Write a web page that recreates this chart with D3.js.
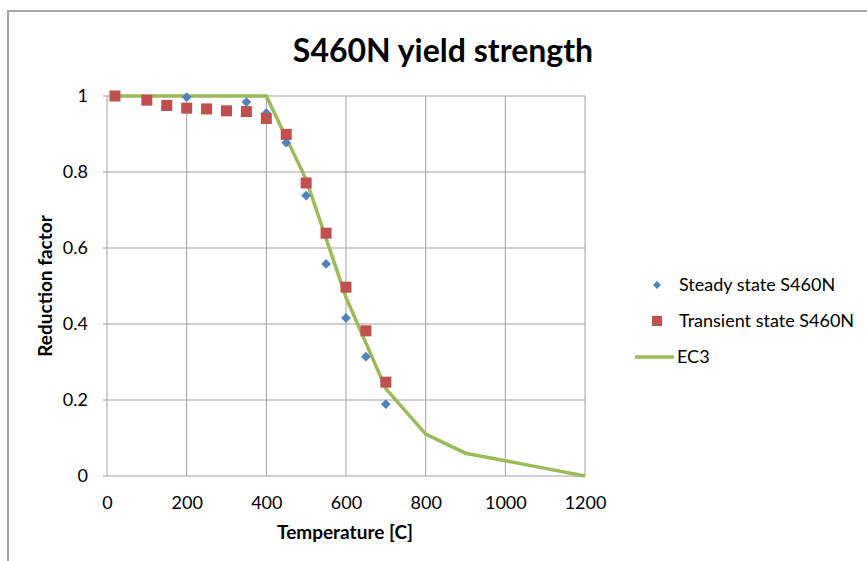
<!DOCTYPE html>
<html lang="en">
<head>
<meta charset="utf-8">
<title>S460N yield strength</title>
<script src="https://cdn.jsdelivr.net/npm/d3@7"></script>
<style>
  body { margin: 0; background: #fff; }
  text { font-family: Lato, "Open Sans", sans-serif; fill: #000; }
</style>
</head>
<body>
<script>
// data
var steadyTemp = [20, 200, 350, 400, 450, 500, 550, 600, 650, 700];
var steadyVal  = [1.0, 0.997, 0.984, 0.955, 0.877, 0.738, 0.558, 0.416, 0.314, 0.189];

var transTemp = [20, 100, 150, 200, 250, 300, 350, 400, 450, 500, 550, 600, 650, 700];
var transVal  = [1.0, 0.989, 0.975, 0.968, 0.966, 0.961, 0.959, 0.941, 0.899, 0.771, 0.639, 0.497, 0.382, 0.247];

var ec3Temp = [20, 400, 500, 600, 700, 800, 900, 1000, 1100, 1200];
var ec3Val  = [1.0, 1.0, 0.78, 0.47, 0.23, 0.11, 0.06, 0.04, 0.02, 0];

var xTicks = [0, 200, 400, 600, 800, 1000, 1200];
var yTicks = [0, 0.2, 0.4, 0.6, 0.8, 1];
var seriesNames = ["Steady state S460N", "Transient state S460N", "EC3"];

var w = 867, h = 561;
var pLeft = 107, pRight = 585, pTop = 96, pBottom = 476;

var svg = d3.select("body").append("svg")
  .attr("width", w)
  .attr("height", h);

// outer chart border (only top and left visible)
svg.append("rect")
  .attr("x", 8).attr("y", 11)
  .attr("width", 900).attr("height", 600)
  .attr("fill", "none")
  .attr("stroke", "#a6a6a6")
  .attr("stroke-width", 2);

var x = d3.scaleLinear().domain([0, 1200]).range([pLeft, pRight]);
var y = d3.scaleLinear().domain([0, 1]).range([pBottom, pTop]);

// grid
svg.append("g").selectAll("line")
  .data(xTicks).enter().append("line")
  .attr("x1", function(d) { return x(d); })
  .attr("x2", function(d) { return x(d); })
  .attr("y1", pTop).attr("y2", pBottom)
  .attr("stroke", "#a0a0a0").attr("stroke-width", 1);

svg.append("g").selectAll("line")
  .data(yTicks).enter().append("line")
  .attr("x1", pLeft - 4).attr("x2", pRight)
  .attr("y1", function(d) { return y(d); })
  .attr("y2", function(d) { return y(d); })
  .attr("stroke", "#a0a0a0").attr("stroke-width", 1);

// axes via d3 axis, lines hidden
var xAxis = svg.append("g")
  .attr("transform", "translate(0," + pBottom + ")")
  .call(d3.axisBottom(x).tickValues(xTicks).tickSize(0).tickPadding(20).tickFormat(d3.format("d")));
var yAxis = svg.append("g")
  .attr("transform", "translate(" + pLeft + ",0)")
  .call(d3.axisLeft(y).tickValues(yTicks).tickSize(0).tickPadding(19).tickFormat(function(d) { return d3.format("")(d); }));
[xAxis, yAxis].forEach(function(a) {
  a.select(".domain").remove();
  a.selectAll("text")
    .attr("font-family", "Lato, 'Open Sans', sans-serif")
    .attr("font-size", "18px")
    .attr("fill", "#000");
});

// EC3 line
var line = d3.line()
  .x(function(d) { return x(d[0]); })
  .y(function(d) { return y(d[1]); });

svg.append("path")
  .datum(d3.zip(ec3Temp, ec3Val))
  .attr("d", line)
  .attr("fill", "none")
  .attr("stroke", "#9bbb59")
  .attr("stroke-width", 3.5);

// steady: blue diamonds
var diamond = d3.symbol().type(d3.symbolDiamond2).size(60);
svg.append("g").selectAll("path")
  .data(d3.zip(steadyTemp, steadyVal)).enter().append("path")
  .attr("d", diamond)
  .attr("transform", function(d) { return "translate(" + x(d[0]) + "," + y(d[1]) + ")"; })
  .attr("fill", "#4f81bd");

// transient: red squares
svg.append("g").selectAll("rect")
  .data(d3.zip(transTemp, transVal)).enter().append("rect")
  .attr("x", function(d) { return x(d[0]) - 5.5; })
  .attr("y", function(d) { return y(d[1]) - 5.5; })
  .attr("width", 11).attr("height", 11)
  .attr("fill", "#c0504d");

// title
svg.append("text")
  .attr("x", 443).attr("y", 62)
  .attr("text-anchor", "middle")
  .attr("font-size", "32px")
  .attr("font-weight", "bold")
  .text("S460N yield strength");

// axis titles
svg.append("text")
  .attr("x", 345).attr("y", 539)
  .attr("text-anchor", "middle")
  .attr("font-size", "19px")
  .attr("font-weight", "bold")
  .text("Temperature [C]");

svg.append("text")
  .attr("transform", "translate(52,286) rotate(-90)")
  .attr("text-anchor", "middle")
  .attr("font-size", "19px")
  .attr("font-weight", "bold")
  .text("Reduction factor");

// legend
var lg = svg.append("g");
var rows = [285, 321, 357];
lg.append("path")
  .attr("d", d3.symbol().type(d3.symbolDiamond2).size(40))
  .attr("transform", "translate(657," + rows[0] + ")")
  .attr("fill", "#4f81bd");
lg.append("rect")
  .attr("x", 652).attr("y", rows[1] - 5)
  .attr("width", 10).attr("height", 10)
  .attr("fill", "#c0504d");
lg.append("line")
  .attr("x1", 635).attr("x2", 674)
  .attr("y1", rows[2]).attr("y2", rows[2])
  .attr("stroke", "#9bbb59").attr("stroke-width", 3.5);
lg.selectAll("text")
  .data(seriesNames).enter().append("text")
  .attr("x", function(d, i) { return i === 2 ? 677 : 679; })
  .attr("y", function(d, i) { return rows[i] + 6; })
  .attr("font-size", "18px")
  .text(function(d) { return d; });
</script>
</body>
</html>
